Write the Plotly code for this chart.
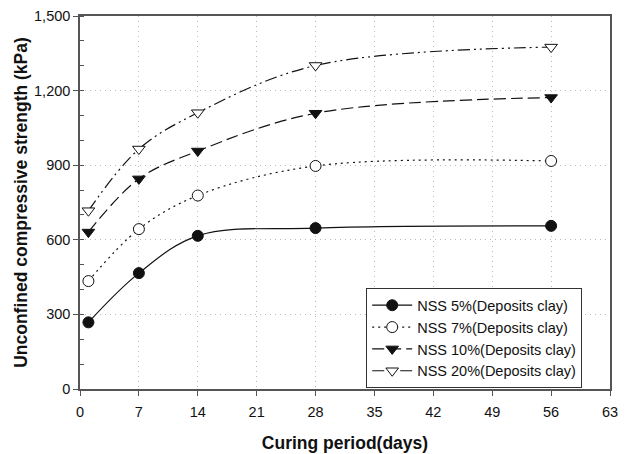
import plotly.graph_objects as go

days = [1, 7, 14, 28, 56]
nss5 = [268, 466, 616, 647, 656]
nss7 = [434, 643, 778, 897, 917]
nss10 = [631, 845, 957, 1109, 1172]
nss20 = [717, 965, 1111, 1301, 1375]

names = ["NSS 5%(Deposits clay)", "NSS 7%(Deposits clay)",
         "NSS 10%(Deposits clay)", "NSS 20%(Deposits clay)"]
x_ticks = [0, 7, 14, 21, 28, 35, 42, 49, 56, 63]
y_ticks = [0, 300, 600, 900, 1200, 1500]
y_labels = ["0", "300", "600", "900", "1,200", "1,500"]

series = [nss5, nss7, nss10, nss20]
dashes = ["solid", "2px,4px", "12px,5px", "12px,4px,2px,4px,2px,4px"]
symbols = ["circle", "circle", "triangle-down", "triangle-down"]
fills = ["#111111", "white", "#111111", "white"]

fig = go.Figure()
for ys, nm, dsh, sym, fc in zip(series, names, dashes, symbols, fills):
    fig.add_trace(go.Scatter(
        x=days, y=ys, name=nm, mode="lines+markers",
        line=dict(color="#111111", width=1.2, dash=dsh, shape="spline", smoothing=1.0),
        marker=dict(symbol=sym, size=11, color=fc,
                    line=dict(color="#111111", width=1)),
    ))

font = "Arial, Liberation Sans, sans-serif"
grid = dict(showgrid=True, gridcolor="#bbbbbb", griddash="1px,4px", gridwidth=1)
fig.update_layout(
    width=630, height=454,
    margin=dict(l=80, r=20, t=16, b=65),
    paper_bgcolor="white", plot_bgcolor="white",
    font=dict(family=font, color="#111111"),
    showlegend=True,
    legend=dict(x=0.54, y=0.27, xanchor="left", yanchor="top",
                bordercolor="#333333", borderwidth=1, bgcolor="white",
                itemwidth=40,
                font=dict(size=14.5, family=font), tracegroupgap=0),
    xaxis=dict(range=[0, 63], tickvals=x_ticks, ticks="outside", ticklen=5,
               ticklabelstandoff=4, automargin=False,
               showline=True, linecolor="#555555", linewidth=1.5, mirror=True,
               tickcolor="#555555", tickfont=dict(size=14.5),
               zeroline=False, **grid,
               title=dict(text="<b>Curing period(days)</b>", font=dict(size=17.5), standoff=18)),
    yaxis=dict(range=[0, 1500], tickvals=y_ticks, ticktext=y_labels, ticks="outside", ticklen=5,
               automargin=False,
               showline=True, linecolor="#555555", linewidth=1.5, mirror=True,
               tickcolor="#555555", tickfont=dict(size=14.5),
               zeroline=False, **grid,
               minor=dict(dtick=100, ticks="inside", ticklen=4, tickcolor="#555555", showgrid=False),
               title=dict(text="<b>Unconfined compressive strength (kPa)</b>", font=dict(size=17.5), standoff=2)),
    yaxis2=dict(range=[0, 1500], overlaying="y", side="right", showticklabels=False,
                automargin=False,
                tickvals=y_ticks, ticks="", showgrid=False, zeroline=False, showline=False,
                minor=dict(dtick=100, ticks="inside", ticklen=4, tickcolor="#555555", showgrid=False)),
)

fig.write_html("out.html")
